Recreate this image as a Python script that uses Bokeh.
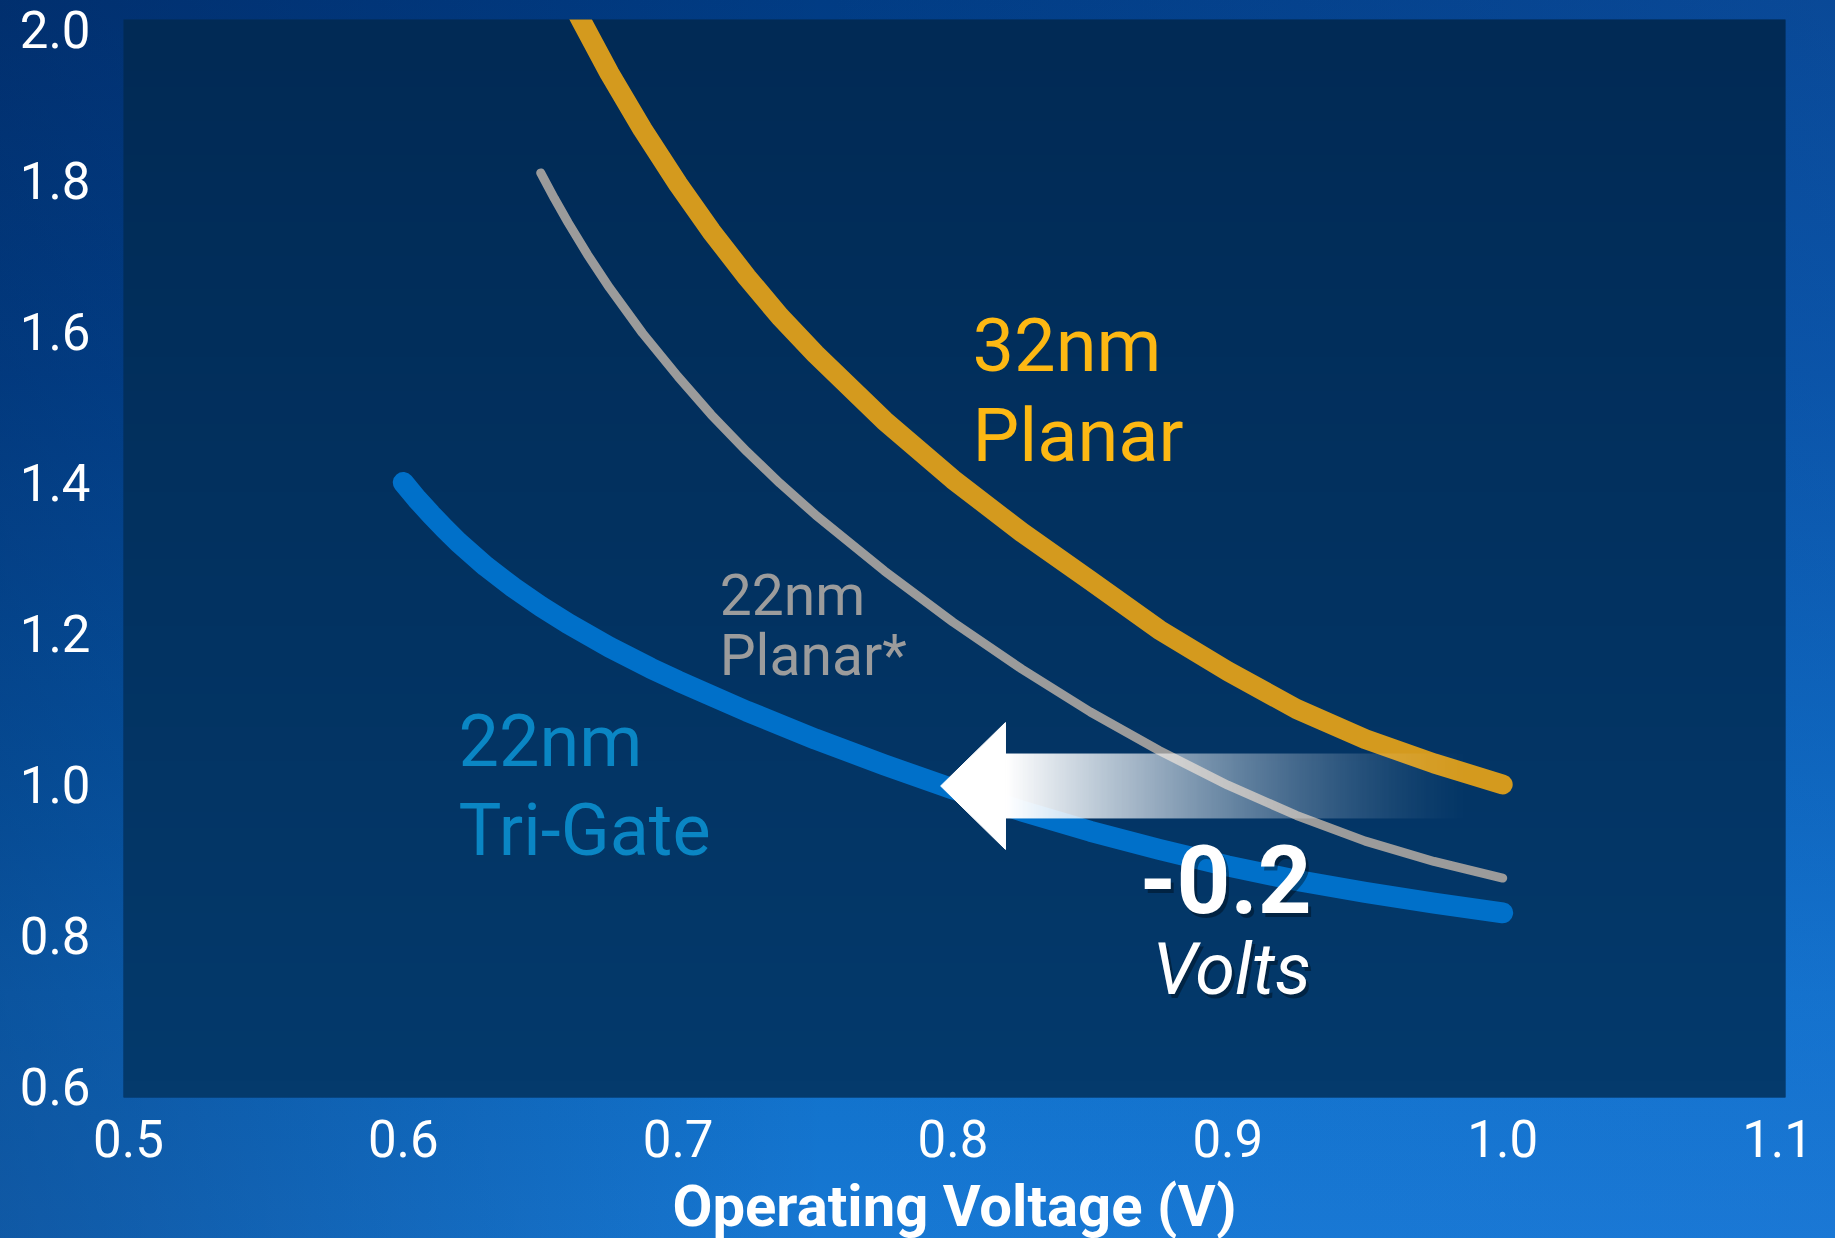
import numpy as np
from bokeh.plotting import figure
from bokeh.models import Label, Range1d, FixedTicker
from bokeh.embed import file_html
from bokeh.resources import INLINE

# ---------------- data ----------------
planar32_v = [0.655, 0.665, 0.675, 0.687, 0.700, 0.712, 0.725, 0.737, 0.750,
              0.775, 0.800, 0.825, 0.850, 0.875, 0.900, 0.925, 0.950, 0.975, 1.000]
planar32_y = [2.080, 2.010, 1.942, 1.868, 1.795, 1.733, 1.672, 1.620, 1.570,
              1.482, 1.404, 1.334, 1.270, 1.205, 1.150, 1.100, 1.060, 1.028, 1.000]

planar22_v = [0.650, 0.655, 0.660, 0.667, 0.675, 0.687, 0.700, 0.712, 0.725,
              0.737, 0.750, 0.775, 0.800, 0.825, 0.850, 0.875, 0.900, 0.925,
              0.950, 0.975, 1.000]
planar22_y = [1.810, 1.776, 1.744, 1.702, 1.658, 1.598, 1.540, 1.490, 1.441,
              1.399, 1.357, 1.283, 1.215, 1.153, 1.096, 1.045, 0.999, 0.959,
              0.925, 0.898, 0.876]

trigate22_v = [0.600, 0.605, 0.610, 0.615, 0.620, 0.630, 0.640, 0.650, 0.660,
               0.675, 0.690, 0.700, 0.725, 0.750, 0.775, 0.800, 0.825, 0.850,
               0.875, 0.900, 0.925, 0.950, 0.975, 1.000]
trigate22_y = [1.400, 1.378, 1.358, 1.339, 1.321, 1.289, 1.261, 1.236, 1.213,
               1.182, 1.154, 1.137, 1.097, 1.060, 1.026, 0.994, 0.965, 0.938,
               0.914, 0.892, 0.873, 0.857, 0.843, 0.830]

x_ticks = [0.5, 0.6, 0.7, 0.8, 0.9, 1.0, 1.1]
x_tick_labels = ["0.5", "0.6", "0.7", "0.8", "0.9", "1.0", "1.1"]
y_ticks = [0.6, 0.8, 1.0, 1.2, 1.4, 1.6, 1.8, 2.0]
y_tick_labels = ["0.6", "0.8", "1.0", "1.2", "1.4", "1.6", "1.8", "2.0"]

x_title = "Operating Voltage (V)"
series_labels = {
    "planar32": ["32nm", "Planar"],
    "planar22": ["22nm", "Planar*"],
    "trigate22": ["22nm", "Tri-Gate"],
}
shift_value = "-0.2"
shift_unit = "Volts"

# arrow: from ~1.0 V back to ~0.8 V at the 1.0 level
arrow_from_v = 0.990
arrow_to_v = 0.7955
arrow_level = 0.998

# ---------------- styling ----------------
ORANGE = "#d49a1e"
GRAY = "#9b9b9b"
BLUE = "#0070c9"
TXT_YELLOW = "#fdb813"
TXT_GRAY = "#9c9c9c"
TXT_BLUE = "#0a86c4"
FONT = "Roboto"

X0, X1 = 0.4982, 1.1029
Y0, Y1 = 0.5854, 2.0132

p = figure(width=1835, height=1238, frame_width=1662, frame_height=1078,
           output_backend="svg", toolbar_location=None,
           x_range=Range1d(X0, X1), y_range=Range1d(Y0, Y1),
           min_border_left=123, min_border_right=50,
           min_border_top=19, min_border_bottom=141)

p.styles = {
    "background-image": (
        "linear-gradient(90deg, rgba(0,18,60,0.30) 0%, rgba(0,18,60,0.0) 45%, "
        "rgba(40,120,220,0.22) 100%), "
        "linear-gradient(180deg, #013c84 0%, #034a9a 30%, #0861b6 62%, "
        "#0f70c9 80%, #1778d3 100%)"
    )
}
p.border_fill_alpha = 0
p.background_fill_color = "#022f5d"
p.outline_line_color = None
p.grid.grid_line_color = None

# plot-area vertical gradient
n = 64
top_c = np.array([0x01, 0x2a, 0x55])
bot_c = np.array([0x04, 0x3a, 0x6c])
bg = np.empty((n, 1), dtype=np.uint32)
bgv = bg.view(dtype=np.uint8).reshape((n, 1, 4))
for i in range(n):
    t = i / (n - 1)  # row 0 is bottom
    c = bot_c * (1 - t) + top_c * t
    bgv[i, 0, 0:3] = c.astype(np.uint8)
    bgv[i, 0, 3] = 255
p.image_rgba(image=[bg], x=X0, y=Y0, dw=X1 - X0, dh=Y1 - Y0)

# axes
for ax in (p.xaxis[0], p.yaxis[0]):
    ax.axis_line_color = None
    ax.major_tick_line_color = None
    ax.minor_tick_line_color = None
    ax.major_tick_out = 0
    ax.major_tick_in = 0
    ax.major_label_text_color = "#ffffff"
    ax.major_label_text_font = FONT
    ax.major_label_text_font_size = "51px"

p.xaxis.ticker = FixedTicker(ticks=x_ticks)
p.xaxis.major_label_overrides = dict(zip(x_ticks, x_tick_labels))
p.xaxis.major_label_standoff = 22
p.xaxis.axis_label = x_title
p.xaxis.axis_label_text_font = FONT
p.xaxis.axis_label_text_font_style = "bold"
p.xaxis.axis_label_text_font_size = "58px"
p.xaxis.axis_label_text_color = "#ffffff"
p.xaxis.axis_label_standoff = 12
p.yaxis.ticker = FixedTicker(ticks=y_ticks)
p.yaxis.major_label_overrides = dict(zip(y_ticks, y_tick_labels))
p.yaxis.major_label_standoff = 33

# curves
p.line(planar32_v, planar32_y, line_color=ORANGE, line_width=20,
       line_cap="round", line_join="round")
p.line(planar22_v, planar22_y, line_color=GRAY, line_width=9,
       line_cap="round", line_join="round")
p.line(trigate22_v, trigate22_y, line_color=BLUE, line_width=21,
       line_cap="round", line_join="round")

# arrow (white, fading shaft)
head_len = 0.0236
head_half = 0.0841
shaft_half = 0.043
base_v = arrow_to_v + head_len
m = 256
shaft = np.empty((4, m), dtype=np.uint32)
sv = shaft.view(dtype=np.uint8).reshape((4, m, 4))
for j in range(m):
    t = j / (m - 1)
    sv[:, j, 0:3] = 255
    sv[:, j, 3] = int(round(255 * (1 - t) ** 1.4))
p.image_rgba(image=[shaft], x=base_v, y=arrow_level - shaft_half,
             dw=arrow_from_v - base_v, dh=2 * shaft_half)
p.patch([arrow_to_v, base_v, base_v],
        [arrow_level, arrow_level + head_half, arrow_level - head_half],
        fill_color="#ffffff", line_color="#ffffff", line_width=1)

# series labels (y = baseline; offset lifts the glyphs onto it)
def add_lines(lines, x, y_first, dy, size, color, lift=0.36):
    for k, s in enumerate(lines):
        p.add_layout(Label(x=x, y=y_first - k * dy, y_offset=round(lift * size),
                           text=s, text_font=FONT,
                           text_font_size=f"{size}px", text_color=color,
                           text_align="left", text_baseline="alphabetic"))

add_lines(series_labels["planar32"], 0.8071, 1.5417, 0.1192, 74, TXT_YELLOW, 0.40)
add_lines(series_labels["planar22"], 0.7151, 1.2212, 0.0795, 57, TXT_GRAY, 0.38)
add_lines(series_labels["trigate22"], 0.6201, 1.0212, 0.1179, 72, TXT_BLUE, 0.38)

# -0.2 Volts annotation (with soft shadow)
for dx, dy, col, alpha in ((3, -4, "#000000", 0.35), (0, 0, "#ffffff", 1.0)):
    p.add_layout(Label(x=0.8992, y=0.8265, x_offset=dx,
                       y_offset=dy + round(0.38 * 94),
                       text=shift_value, text_font=FONT, text_font_style="bold",
                       text_font_size="94px", text_color=col, text_alpha=alpha,
                       text_align="center", text_baseline="alphabetic"))
    p.add_layout(Label(x=0.9014, y=0.7205, x_offset=dx,
                       y_offset=dy + round(0.36 * 72),
                       text=shift_unit, text_font=FONT, text_font_style="italic",
                       text_font_size="72px", text_color=col, text_alpha=alpha,
                       text_align="center", text_baseline="alphabetic"))

open("out.html", "w").write(file_html(p, INLINE))
